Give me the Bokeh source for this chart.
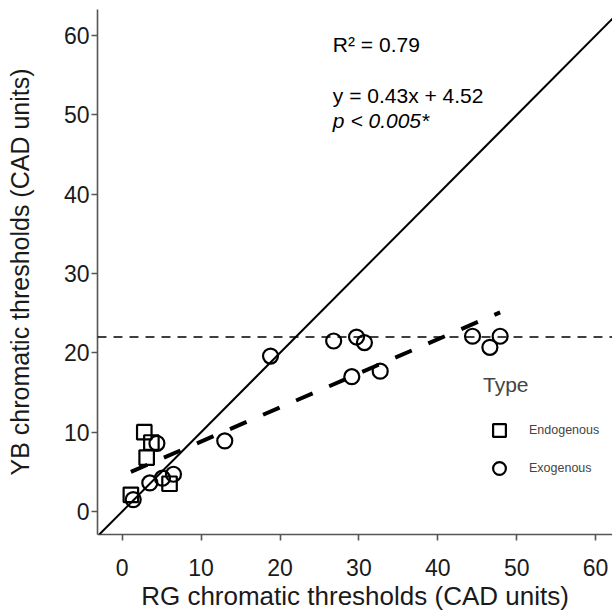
from bokeh.plotting import figure
from bokeh.models import Range1d, Slope, Span, Label, Legend, LegendItem, FixedTicker
from bokeh.embed import file_html
from bokeh.resources import INLINE

# ---- data ----
endo_rg = [2.8, 3.7, 3.1, 1.1, 6.0]
endo_yb = [10.0, 8.7, 6.8, 2.1, 3.5]
exo_rg = [1.4, 3.5, 5.1, 6.5, 4.4, 13.0, 18.8, 26.8, 29.7, 30.7, 29.1, 32.7, 44.4, 46.6, 47.9]
exo_yb = [1.5, 3.6, 4.2, 4.7, 8.6, 8.9, 19.6, 21.5, 22.0, 21.3, 17.0, 17.7, 22.1, 20.7, 22.1]
fit_slope = 0.43
fit_intercept = 4.52
yb_threshold = 22.0
ticks = [0, 10, 20, 30, 40, 50, 60]
x_title = "RG chromatic thresholds (CAD units)"
y_title = "YB chromatic thresholds (CAD units)"

FONT = "Liberation Sans"

p = figure(width=612, height=616,
           x_range=Range1d(-3.13, 62.14), y_range=Range1d(-2.90, 63.30),
           output_backend="svg", toolbar_location=None,
           min_border_left=97, min_border_right=0, min_border_top=9, min_border_bottom=82)
p.grid.visible = False
p.outline_line_color = None
p.background_fill_color = "white"

for ax in (p.xaxis[0], p.yaxis[0]):
    ax.ticker = FixedTicker(ticks=ticks)
    ax.minor_tick_line_color = None
    ax.axis_line_color = "#555555"
    ax.axis_line_width = 1.6
    ax.major_tick_line_color = "#555555"
    ax.major_tick_line_width = 1.6
    ax.major_tick_out = 6
    ax.major_tick_in = 0
    ax.major_label_text_font = FONT
    ax.major_label_text_font_size = "23px"
    ax.major_label_text_color = "#1a1a1a"
    ax.axis_label_text_font = FONT
    ax.axis_label_text_font_style = "normal"
    ax.axis_label_text_color = "#1a1a1a"

p.xaxis.axis_label = x_title
p.yaxis.axis_label = y_title
p.xaxis.axis_label_text_font_size = "26px"
p.yaxis.axis_label_text_font_size = "25px"
p.xaxis.major_label_standoff = 18
p.xaxis.axis_label_standoff = 2
p.yaxis.major_label_standoff = 2
p.yaxis.axis_label_standoff = 27

# 1:1 line
p.add_layout(Slope(gradient=1, y_intercept=0, line_color="black", line_width=2))
# threshold line
p.add_layout(Span(location=yb_threshold, dimension="width", line_color="black",
                  line_width=1.5, line_dash="9 7"))
# regression line over the data range
all_rg = endo_rg + exo_rg
x0, x1 = min(all_rg), max(all_rg)
p.line([x0, x1], [fit_slope * x0 + fit_intercept, fit_slope * x1 + fit_intercept],
       line_color="black", line_width=4, line_dash="18 18")

sq = p.scatter(endo_rg, endo_yb, marker="square", size=14.5, fill_color=None,
               line_color="black", line_width=2.2)
ci = p.scatter(exo_rg, exo_yb, marker="circle", size=15, fill_color=None,
               line_color="black", line_width=2.2)

# annotations
p.add_layout(Label(x=26.7, y=58.9, text="R² = 0.79", text_font=FONT, text_font_size="21px",
                   text_baseline="alphabetic", text_color="black"))
p.add_layout(Label(x=26.7, y=52.4, text="y = 0.43x + 4.52", text_font=FONT, text_font_size="21px",
                   text_baseline="alphabetic", text_color="black"))
p.add_layout(Label(x=26.7, y=49.3, text="p < 0.005*", text_font=FONT, text_font_size="21px",
                   text_font_style="italic", text_baseline="alphabetic", text_color="black"))

legend = Legend(items=[LegendItem(label="Endogenous", renderers=[sq]),
                       LegendItem(label="Exogenous", renderers=[ci])],
                location=(386, 50), title="Type",
                border_line_color=None, background_fill_alpha=0,
                padding=0, margin=0, glyph_width=32, glyph_height=32,
                label_height=32, spacing=6, label_standoff=14,
                label_text_font=FONT, label_text_font_size="12.5px",
                title_text_font=FONT, title_text_font_size="21px",
                title_text_font_style="normal", title_standoff=17)
p.add_layout(legend)

open("out.html", "w").write(file_html(p, INLINE))
